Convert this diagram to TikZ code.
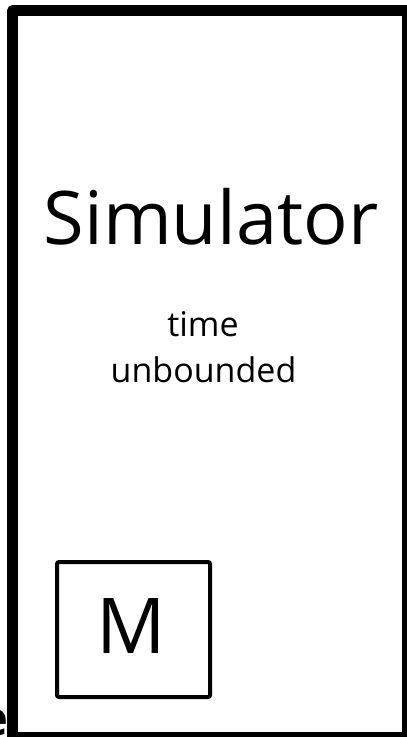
\documentclass[tikz,border=0pt]{standalone}
\usepackage{fontspec}
\setmainfont{Open Sans}
\begin{document}
\begin{tikzpicture}[x=1pt,y=-1pt,
  outerbox/.style={draw=black,line width=10.5pt,line join=round},
  innerbox/.style={draw=black,line width=4pt,rounded corners=2pt},
  lbl/.style={inner sep=0pt,anchor=base,text=black}]
\useasboundingbox (0,0) rectangle (407,737);
\fill[white] (0,0) rectangle (407,737);
\node[lbl,anchor=base east,font=\fontsize{47}{50}\selectfont\bfseries] (cut) at (8,735) {e};
\draw[outerbox] (12.5,10.5) rectangle (407.5,737.5);
\coordinate (sim) at (211,244);
\node[lbl,font=\fontsize{74}{80}\selectfont] (title) at (sim) {Simulator};
\node[lbl,font=\fontsize{34}{40}\selectfont] (time) at (203,336) {time};
\node[lbl,font=\fontsize{34}{40}\selectfont] (unb) at (203.5,382) {unbounded};
\draw[innerbox] (57,562) rectangle (210,697);
\node[lbl,font=\fontsize{77}{80}\selectfont] (m) at (131,653) {M};
\end{tikzpicture}
\end{document}
